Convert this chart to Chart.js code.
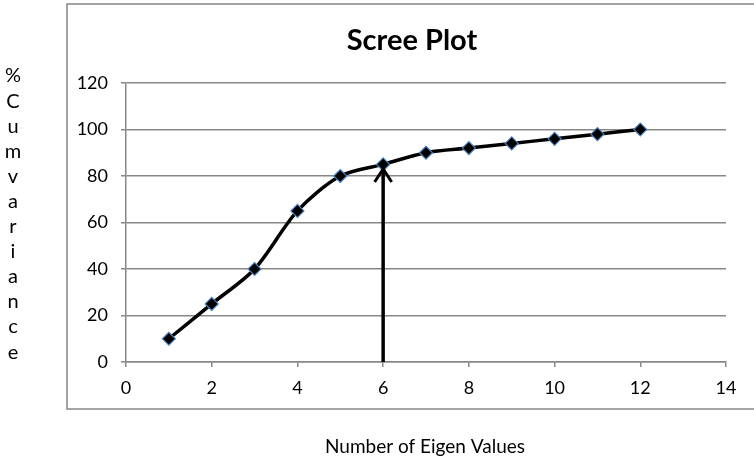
<!DOCTYPE html>
<html>
<head>
<meta charset="utf-8">
<script src="https://cdn.jsdelivr.net/npm/chart.js@4/dist/chart.umd.min.js"></script>
<style>
  html, body { margin: 0; padding: 0; background: #fff; }
  #wrap { width: 754px; height: 461px; }
</style>
</head>
<body>
<div id="wrap"><canvas id="scree" width="754" height="461"></canvas></div>
<script>
// datos del gráfico
const numEigen = [1, 2, 3, 4, 5, 6, 7, 8, 9, 10, 11, 12];
const cumVariance = [10, 25, 40, 65, 80, 85, 90, 92, 94, 96, 98, 100];
const arrowAt = 6;          // autovalor señalado por la flecha
const arrowRange = [0, 83]; // desde / hasta (valores del eje y)
const titulo = 'Scree Plot';
const tituloX = 'Number of Eigen Values';
const tituloY = ['%', 'C', 'u', 'm', 'v', 'a', 'r', 'i', 'a', 'n', 'c', 'e'];

const gris = '#878787';
const fuente = 'Lato, "Open Sans", sans-serif';

// marco, títulos y flecha
const extras = {
    id: 'extras',
    beforeDraw(chart) {
        const ctx = chart.ctx;
        ctx.save();
        ctx.strokeStyle = gris;
        ctx.lineWidth = 1.5;
        ctx.strokeRect(67, 4, 700, 405);
        ctx.restore();
    },
    afterDraw(chart) {
        const ctx = chart.ctx;
        const x = chart.scales.x, y = chart.scales.y;
        ctx.save();
        ctx.fillStyle = '#000';
        ctx.textAlign = 'center';
        ctx.textBaseline = 'middle';
        ctx.font = 'bold 29px ' + fuente;
        ctx.fillText(titulo, 412, 41);
        ctx.font = '19px ' + fuente;
        ctx.fillText(tituloX, 425, 447);
        ctx.font = '20px ' + fuente;
        tituloY.forEach((l, i) => ctx.fillText(l, 13, 76 + i * 25.1));

        // flecha
        const ax = x.getPixelForValue(arrowAt);
        const y0 = y.getPixelForValue(arrowRange[0]);
        const y1 = y.getPixelForValue(arrowRange[1]);
        ctx.strokeStyle = '#000';
        ctx.lineWidth = 3.5;
        ctx.beginPath();
        ctx.moveTo(ax, y0);
        ctx.lineTo(ax, y1 + 1);
        ctx.stroke();
        ctx.lineWidth = 3;
        ctx.beginPath();
        ctx.moveTo(ax - 8.5, y1 + 13);
        ctx.lineTo(ax, y1);
        ctx.lineTo(ax + 8.5, y1 + 13);
        ctx.stroke();
        ctx.restore();
    }
};

const ctx = document.getElementById('scree').getContext('2d');
const chart = new Chart(ctx, {
    type: 'line',
    data: {
        datasets: [{
            data: numEigen.map((n, i) => ({ x: n, y: cumVariance[i] })),
            borderColor: '#000',
            borderWidth: 3.5,
            tension: 0.3,
            pointStyle: 'rectRot',
            pointRadius: 6.5,
            pointBackgroundColor: '#000',
            pointBorderColor: '#4a7ebb',
            pointBorderWidth: 1.2
        }]
    },
    options: {
        responsive: false,
        animation: false,
        layout: { padding: { left: 70, right: 28, top: 83, bottom: 49 } },
        plugins: { legend: { display: false }, title: { display: false }, tooltip: { enabled: false } },
        scales: {
            x: {
                type: 'linear',
                min: 0, max: 14,
                afterFit: s => { s.height = 50; },
                ticks: { stepSize: 2, color: '#000', padding: 10, font: { size: 18, family: fuente } },
                grid: { drawOnChartArea: false, color: gris, tickLength: 5, lineWidth: 1.5 },
                border: { color: gris, width: 1.5 }
            },
            y: {
                min: 0, max: 120,
                afterFit: s => { s.width = 56; },
                ticks: { stepSize: 20, color: '#000', padding: 13, font: { size: 18, family: fuente } },
                grid: { color: gris, tickLength: 5, lineWidth: 1.5 },
                border: { color: gris, width: 1.5 }
            }
        }
    },
    plugins: [extras]
});
</script>
</body>
</html>
